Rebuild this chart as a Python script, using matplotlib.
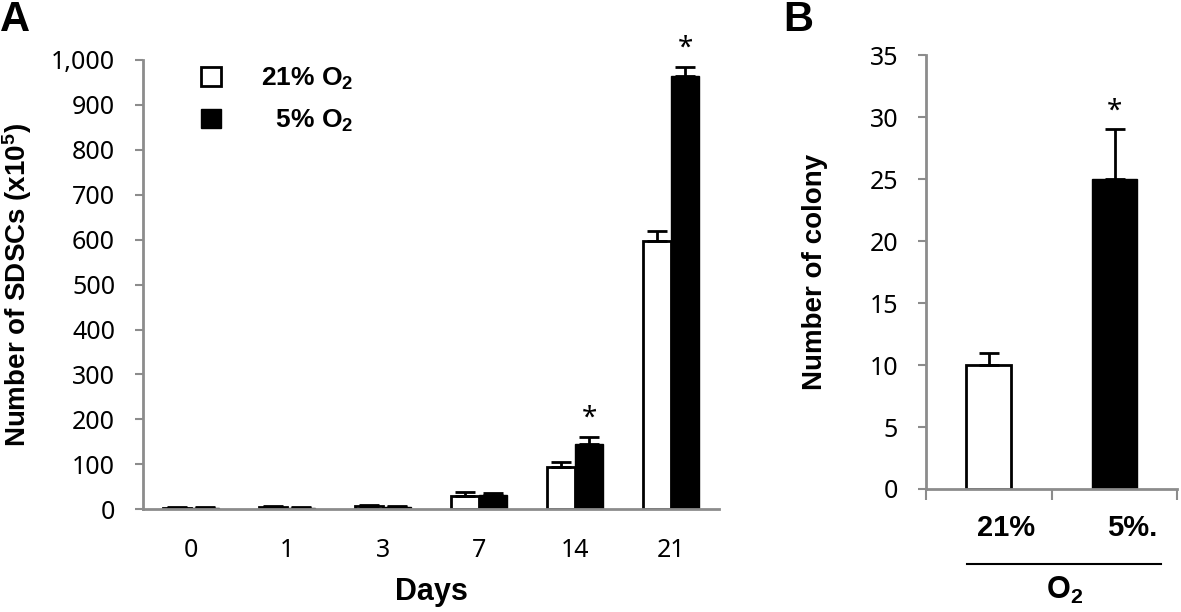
import numpy as np
import matplotlib
matplotlib.use('Agg')
import matplotlib.pyplot as plt
from matplotlib.patches import Patch
from matplotlib.transforms import blended_transform_factory

plt.rcParams['mathtext.fontset'] = 'custom'
plt.rcParams['mathtext.rm'] = 'Liberation Sans'
plt.rcParams['mathtext.bf'] = 'Liberation Sans:bold'
plt.rcParams['mathtext.default'] = 'bf'

# panel A data (x10^5 cells)
days = ['0', '1', '3', '7', '14', '21']
normoxia = [3, 5, 6, 30, 95, 596]
normoxia_err = [1, 3, 3, 8, 9, 24]
hypoxia = [3, 3, 5, 31, 144, 965]
hypoxia_err = [1, 1, 2, 6, 16, 20]
stars_a = [False, False, False, False, True, True]

# panel B data
groups = ['21%', '5%.']
colony = [10, 25]
colony_err = [1, 4]
stars_b = [False, True]

grey = '#8c8c8c'
bold = 'Liberation Sans'
tickfont = 'Noto Sans'

fig = plt.figure(figsize=(11.81, 6.12), dpi=100)
axA = fig.add_axes([0.121, 0.168, 0.488, 0.734])
axB = fig.add_axes([0.784, 0.201, 0.213, 0.709])

# ---- panel A
x = np.arange(len(days))
w = 0.29
errkw = dict(ecolor='black', elinewidth=2, capsize=7, capthick=2)
lo = np.zeros(len(days))
axA.bar(x - w / 2, normoxia, w, color='white', edgecolor='black', linewidth=2,
        yerr=[lo, normoxia_err], error_kw=errkw, zorder=2)
axA.bar(x + w / 2, hypoxia, w, color='black', edgecolor='black', linewidth=1,
        yerr=[lo, hypoxia_err], error_kw=errkw, zorder=2)
for i in range(len(days)):
    if stars_a[i]:
        axA.text(x[i] + w / 2, hypoxia[i] + hypoxia_err[i] + 10, '*', ha='center',
                 va='bottom', fontsize=20, family=tickfont)

axA.set_xlim(-0.5, len(days) - 0.5)
axA.set_ylim(0, 1000)
axA.set_yticks(range(0, 1001, 100))
axA.set_yticklabels(['{:,}'.format(v) for v in range(0, 1001, 100)])
axA.set_xticks(x)
axA.set_xticklabels(days)
axA.tick_params(axis='x', length=0, pad=21)
axA.tick_params(axis='y', length=6, width=1.5, color=grey, pad=14)
for lab in axA.get_xticklabels() + axA.get_yticklabels():
    lab.set_fontfamily(tickfont)
    lab.set_fontsize(18)
for s in ['top', 'right']:
    axA.spines[s].set_visible(False)
for s in ['left', 'bottom']:
    axA.spines[s].set_color(grey)
    axA.spines[s].set_linewidth(2)
axA.set_xlabel('Days', fontsize=22, fontweight='bold', family=bold, labelpad=10)
axA.set_ylabel('Number of SDSCs (x10$^\\mathbf{5}$)', fontsize=20, fontweight='bold',
               family=bold, labelpad=12)

handles = [Patch(facecolor='white', edgecolor='black', linewidth=2),
           Patch(facecolor='black', edgecolor='black')]
leg = axA.legend(handles, ['21% O$_\\mathbf{2}$', '  5% O$_\\mathbf{2}$'],
                 loc='upper left', bbox_to_anchor=(0.06, 1.04), frameon=False,
                 prop={'family': bold, 'weight': 'bold', 'size': 19},
                 handlelength=0.75, handleheight=0.75, handletextpad=1.5,
                 labelspacing=0.6)

# ---- panel B
xb = np.arange(len(groups))
wb = 0.355
axB.bar(xb[0], colony[0], wb, color='white', edgecolor='black', linewidth=2,
        yerr=[[0], [colony_err[0]]], error_kw=errkw, zorder=2)
axB.bar(xb[1], colony[1], wb, color='black', edgecolor='black', linewidth=1,
        yerr=[[0], [colony_err[1]]], error_kw=errkw, zorder=2)
for i in range(len(groups)):
    if stars_b[i]:
        axB.text(xb[i], colony[i] + colony_err[i] + 0.3, '*', ha='center',
                 va='bottom', fontsize=20, family=tickfont)

axB.set_xlim(-0.5, len(groups) - 0.5)
axB.set_ylim(0, 35)
axB.set_yticks(range(0, 36, 5))
axB.set_xticks([-0.5, 0.5, 1.5])
axB.set_xticklabels([])
axB.tick_params(axis='x', length=8, width=1.5, color=grey)
axB.tick_params(axis='y', length=6, width=1.5, color=grey, pad=14)
for lab in axB.get_yticklabels():
    lab.set_fontfamily(tickfont)
    lab.set_fontsize(18)
for s in ['top', 'right']:
    axB.spines[s].set_visible(False)
for s in ['left', 'bottom']:
    axB.spines[s].set_color(grey)
    axB.spines[s].set_linewidth(2)
axB.set_ylabel('Number of colony', fontsize=20, fontweight='bold', family=bold,
               labelpad=30)

tr = blended_transform_factory(axB.transData, axB.transAxes)
for i, g in enumerate(groups):
    axB.text(xb[i] + 0.14, -0.058, g, transform=tr, ha='center', va='top',
             fontsize=21, fontweight='bold', family=bold)
axB.plot([-0.17, 1.37], [-0.172, -0.172], transform=tr, color='black', lw=1.5,
         clip_on=False)
axB.text(0.6, -0.198, 'O$_\\mathbf{2}$', transform=tr, ha='center', va='top',
         fontsize=22, fontweight='bold', family=bold)

# panel letters
fig.text(0.0, 1.0, 'A', ha='left', va='top', fontsize=30, fontweight='bold', family=bold)
fig.text(0.663, 1.0, 'B', ha='left', va='top', fontsize=30, fontweight='bold', family=bold)

fig.savefig('out.png', dpi=100)
